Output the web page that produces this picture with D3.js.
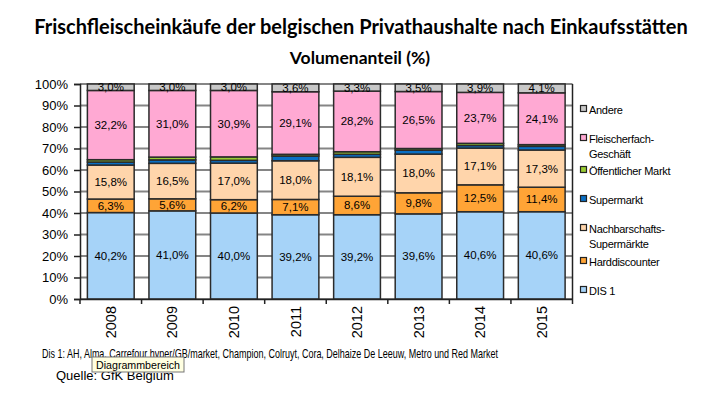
<!DOCTYPE html>
<html>
<head>
<meta charset="utf-8">
<script src="https://cdn.jsdelivr.net/npm/d3@7"></script>
<style>
  html, body { margin: 0; padding: 0; background: #fff; }
  svg { display: block; }
</style>
</head>
<body>
<svg id="chart" width="717" height="411"></svg>
<script>
// ---- data ----
const years = ["2008", "2009", "2010", "2011", "2012", "2013", "2014", "2015"];
const seriesNames = ["DIS 1", "Harddiscounter", "Nachbarschafts-Supermärkte", "Supermarkt", "Öffentlicher Markt", "Fleischerfach-Geschäft", "Andere"];
const dis1 = [40.2, 41.0, 40.0, 39.2, 39.2, 39.6, 40.6, 40.6];
const harddiscounter = [6.3, 5.6, 6.2, 7.1, 8.6, 9.8, 12.5, 11.4];
const nachbarschafts = [15.8, 16.5, 17.0, 18.0, 18.1, 18.0, 17.1, 17.3];
const supermarkt = [1.4, 1.6, 1.3, 2.2, 1.4, 1.8, 1.2, 1.7];
const oeffentlich = [1.1, 1.3, 1.6, 0.8, 1.2, 0.8, 1.0, 0.8];
const fleischerfach = [32.2, 31.0, 30.9, 29.1, 28.2, 26.5, 23.7, 24.1];
const andere = [3.0, 3.0, 3.0, 3.6, 3.3, 3.5, 3.9, 4.1];
const yTicks = [0, 10, 20, 30, 40, 50, 60, 70, 80, 90, 100];
const legendLabels = [["Andere"], ["Fleischerfach-", "Geschäft"], ["Öffentlicher Markt"], ["Supermarkt"], ["Nachbarschafts-", "Supermärkte"], ["Harddiscounter"], ["DIS 1"]];

const seriesValues = [dis1, harddiscounter, nachbarschafts, supermarkt, oeffentlich, fleischerfach, andere];
const colors = ["#a6d3f8", "#ffa436", "#ffd5ab", "#0a6fc4", "#99cc33", "#ffa9d3", "#c8c8c8"];
const showLabel = [true, true, true, false, false, true, true];

const svg = d3.select("#chart");
const L = 80, R = 572.5, T = 84, B = 299;

const x = d3.scaleBand().domain(years).range([L, R]).paddingInner(0.24).paddingOuter(0.12);
const y = d3.scaleLinear().domain([0, 100]).range([B, T]);

// titles
svg.append("text").attr("x", 361).attr("y", 34).attr("text-anchor", "middle")
  .attr("font-family", "Lato, 'Open Sans', sans-serif").attr("font-weight", "bold")
  .attr("font-size", 20).attr("fill", "#000")
  .text("Frischfleischeinkäufe der belgischen Privathaushalte nach Einkaufsstätten");
svg.append("text").attr("x", 360).attr("y", 64).attr("text-anchor", "middle")
  .attr("font-family", "Lato, 'Open Sans', sans-serif").attr("font-weight", "bold")
  .attr("font-size", 17.5).attr("fill", "#000")
  .text("Volumenanteil (%)");

// gridlines
svg.append("g").selectAll("line").data(yTicks).join("line")
  .attr("x1", L).attr("x2", R)
  .attr("y1", d => y(d)).attr("y2", d => y(d))
  .attr("stroke", "#858585").attr("stroke-width", 2);

// stack
const rows = years.map((yr, i) => {
  const o = { year: yr };
  seriesNames.forEach((s, k) => { o[s] = seriesValues[k][i]; });
  return o;
});
const stack = d3.stack().keys(seriesNames)(rows);

const g = svg.append("g");
stack.forEach((layer, k) => {
  g.append("g").selectAll("rect").data(layer).join("rect")
    .attr("x", d => x(d.data.year))
    .attr("width", x.bandwidth())
    .attr("y", d => y(d[1]))
    .attr("height", d => y(d[0]) - y(d[1]))
    .attr("fill", colors[k])
    .attr("stroke", "#2b2b2b").attr("stroke-width", 1.5);
});
// labels
stack.forEach((layer, k) => {
  if (!showLabel[k]) return;
  g.append("g").selectAll("text").data(layer).join("text")
    .attr("x", d => x(d.data.year) + x.bandwidth() / 2)
    .attr("y", d => (y(d[0]) + y(d[1])) / 2 + 4)
    .attr("text-anchor", "middle")
    .attr("font-family", "'Liberation Sans', Arial, sans-serif")
    .attr("font-size", 11.5).attr("fill", "#000")
    .text(d => (d[1] - d[0]).toFixed(1).replace(".", ",") + "%");
});

// left axis
const yAxis = d3.axisLeft(y).tickValues(yTicks).tickFormat(d => d + "%").tickSize(6).tickPadding(6);
const ya = svg.append("g").attr("transform", `translate(${L},0)`).call(yAxis);
ya.select(".domain").attr("stroke", "#222").attr("stroke-width", 1.5);
ya.selectAll(".tick line").attr("stroke", "#222").attr("stroke-width", 1.5);
ya.selectAll("text").attr("font-family", "'Liberation Sans', Arial, sans-serif").attr("font-size", 13).attr("fill", "#000");

// right border
svg.append("line").attr("x1", R).attr("x2", R).attr("y1", T).attr("y2", B)
  .attr("stroke", "#222").attr("stroke-width", 1.5);

// bottom axis
const xAxis = d3.axisBottom(x).tickSize(0).tickPadding(0);
const xa = svg.append("g").attr("transform", `translate(0,${B})`).call(xAxis);
xa.select(".domain").attr("stroke", "#222").attr("stroke-width", 1.5);
xa.selectAll("text")
  .attr("font-family", "'Liberation Sans', Arial, sans-serif").attr("font-size", 14.5).attr("fill", "#000")
  .attr("transform", "rotate(-90)")
  .attr("text-anchor", "end").attr("x", -7).attr("y", 0).attr("dy", "0.35em");
// tick marks at category boundaries
const bounds = d3.range(years.length + 1).map(i => L + i * x.step());
svg.append("g").selectAll("line").data(bounds).join("line")
  .attr("x1", d => d).attr("x2", d => d).attr("y1", B).attr("y2", B + 5)
  .attr("stroke", "#222").attr("stroke-width", 1.5);

// legend
const legendY = [110, 139, 171, 200, 229, 262, 291];
const legendColorIdx = [6, 5, 4, 3, 2, 1, 0];
const lg = svg.append("g");
legendLabels.forEach((lines, i) => {
  const yy = legendY[i];
  lg.append("rect").attr("x", 580.5).attr("y", yy - 4.5).attr("width", 6).attr("height", 6)
    .attr("fill", colors[legendColorIdx[i]]).attr("stroke", "#222").attr("stroke-width", 1.2);
  lines.forEach((t, j) => {
    lg.append("text").attr("x", 589).attr("y", yy + 4 + j * 15)
      .attr("font-family", "'Liberation Sans', Arial, sans-serif").attr("font-size", 11)
      .attr("letter-spacing", -0.3).attr("fill", "#000").text(t);
  });
});

// footnote
svg.append("text").attr("x", 42).attr("y", 358)
  .attr("font-family", "'Liberation Sans Narrow', 'Liberation Sans', Arial, sans-serif").attr("font-size", 13)
  .attr("textLength", 456).attr("lengthAdjust", "spacingAndGlyphs").attr("fill", "#000")
  .text("Dis 1: AH, Alma, Carrefour hyper/GB/market, Champion, Colruyt, Cora, Delhaize De Leeuw, Metro und Red Market");
svg.append("text").attr("x", 56).attr("y", 380)
  .attr("font-family", "'Liberation Sans', Arial, sans-serif").attr("font-size", 13).attr("fill", "#000")
  .text("Quelle: GfK Belgium");

// tooltip
const tip = svg.append("g").attr("transform", "translate(92,357)");
tip.append("rect").attr("x", 0).attr("y", 0).attr("width", 92).attr("height", 15)
  .attr("fill", "#ffffe1").attr("stroke", "#767676").attr("stroke-width", 1);
tip.append("text").attr("x", 4).attr("y", 11.5)
  .attr("font-family", "'Liberation Sans Narrow', 'Liberation Sans', Arial, sans-serif").attr("font-size", 11.5)
  .attr("textLength", 84).attr("lengthAdjust", "spacingAndGlyphs").attr("fill", "#000")
  .text("Diagrammbereich");
</script>
</body>
</html>
